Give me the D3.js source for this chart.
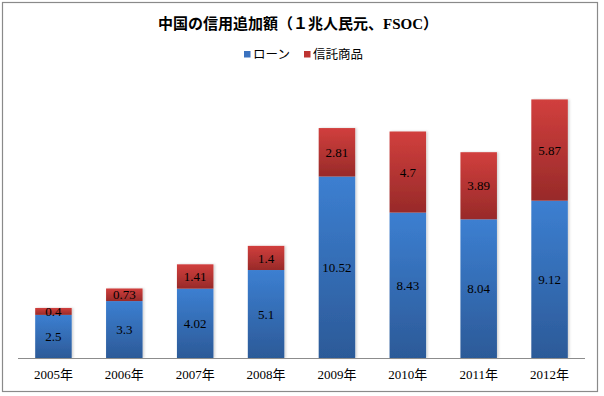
<!DOCTYPE html>
<html lang="ja">
<head>
    <meta charset="UTF-8">
    <title>中国の信用追加額</title>
    <script src="https://d3js.org/d3.v7.min.js"></script>
    <style>
        html, body {
            margin: 0;
            background: #fff;
        }
        text {
            font-family: "Liberation Serif", "Noto Sans CJK JP", serif;
        }
    </style>
</head>
<body>
<div id="vis"></div>
<script>
var years = ['2005年', '2006年', '2007年', '2008年', '2009年', '2010年', '2011年', '2012年'];
var loans = [2.5, 3.3, 4.02, 5.1, 10.52, 8.43, 8.04, 9.12];
var trusts = [0.4, 0.73, 1.41, 1.4, 2.81, 4.7, 3.89, 5.87];
var seriesNames = ['ローン', '信託商品'];

var width = 604,
    height = 396;

var svg = d3.select('#vis')
    .append('svg')
    .attr('width', width)
    .attr('height', height);

var defs = svg.append('defs');

function gradient(id, top, bottom) {
    var g = defs.append('linearGradient')
        .attr('id', id)
        .attr('x1', 0).attr('y1', 0)
        .attr('x2', 0).attr('y2', 1);
    g.append('stop').attr('offset', '0%').attr('stop-color', top);
    g.append('stop').attr('offset', '100%').attr('stop-color', bottom);
}
gradient('blue', '#3c7fd1', '#2c5a98');
gradient('red', '#d13f3d', '#982a29');

defs.append('filter')
    .attr('id', 'shadow')
    .attr('x', '-20%').attr('y', '-5%')
    .attr('width', '140%').attr('height', '110%')
    .append('feDropShadow')
    .attr('dx', 1.5).attr('dy', 0)
    .attr('stdDeviation', 1)
    .attr('flood-color', '#000')
    .attr('flood-opacity', 0.18);

// chart border
svg.append('rect')
    .attr('x', 2.5).attr('y', 2.5)
    .attr('width', 595).attr('height', 389)
    .attr('fill', 'none')
    .attr('stroke', '#8a8a8a')
    .attr('stroke-width', 1.2);

svg.append('text')
    .attr('x', 298)
    .attr('y', 29)
    .attr('text-anchor', 'middle')
    .style('font-size', '15px')
    .style('font-weight', 'bold')
    .text('中国の信用追加額（１兆人民元、FSOC）');

// legend
var legend = svg.append('g');
var legendX = [244, 304];
var legendFill = ['#3b72bf', '#be3431'];
seriesNames.forEach(function(name, i) {
    legend.append('rect')
        .attr('x', legendX[i])
        .attr('y', 51)
        .attr('width', 6.5)
        .attr('height', 6.5)
        .attr('fill', legendFill[i]);
    legend.append('text')
        .attr('x', legendX[i] + 9)
        .attr('y', 59)
        .style('font-size', '12.5px')
        .text(name);
});

var x_scale = d3.scaleBand()
    .domain(years)
    .range([18, 585])
    .paddingInner(0.485)
    .paddingOuter(0.2425);

var y_scale = d3.scaleLinear()
    .domain([0, 16])
    .range([358, 82]);

var data = years.map(function(y, i) {
    return { year: y, loan: loans[i], trust: trusts[i] };
});

var bars = svg.selectAll('.bar')
    .data(data)
    .enter()
    .append('g')
    .attr('class', 'bar')
    .attr('filter', 'url(#shadow)');

bars.append('rect')
    .attr('x', function(d) { return x_scale(d.year); })
    .attr('width', x_scale.bandwidth())
    .attr('y', function(d) { return y_scale(d.loan); })
    .attr('height', function(d) { return y_scale(0) - y_scale(d.loan); })
    .attr('fill', 'url(#blue)');

bars.append('rect')
    .attr('x', function(d) { return x_scale(d.year); })
    .attr('width', x_scale.bandwidth())
    .attr('y', function(d) { return y_scale(d.loan + d.trust); })
    .attr('height', function(d) { return y_scale(d.loan) - y_scale(d.loan + d.trust); })
    .attr('fill', 'url(#red)');

var labels = svg.append('g')
    .style('font-size', '13px')
    .attr('text-anchor', 'middle');

labels.selectAll('.loan-label')
    .data(data)
    .enter()
    .append('text')
    .attr('x', function(d) { return x_scale(d.year) + x_scale.bandwidth() / 2; })
    .attr('y', function(d) { return (y_scale(0) + y_scale(d.loan)) / 2; })
    .attr('dy', '0.35em')
    .text(function(d) { return d.loan; });

labels.selectAll('.trust-label')
    .data(data)
    .enter()
    .append('text')
    .attr('x', function(d) { return x_scale(d.year) + x_scale.bandwidth() / 2; })
    .attr('y', function(d) { return (y_scale(d.loan) + y_scale(d.loan + d.trust)) / 2; })
    .attr('dy', '0.35em')
    .text(function(d) { return d.trust; });

var x_axis = d3.axisBottom(x_scale).tickSize(0).tickPadding(12);

var ax = svg.append('g')
    .attr('transform', 'translate(0,' + y_scale(0) + ')')
    .call(x_axis);

ax.select('.domain')
    .attr('stroke', '#8c8c8c')
    .attr('d', 'M18,0.5H585');

ax.selectAll('text')
    .style('font-size', '13px')
    .style('font-family', '"Liberation Serif", "Noto Sans CJK JP", serif')
    .attr('fill', '#000');
</script>
</body>
</html>
